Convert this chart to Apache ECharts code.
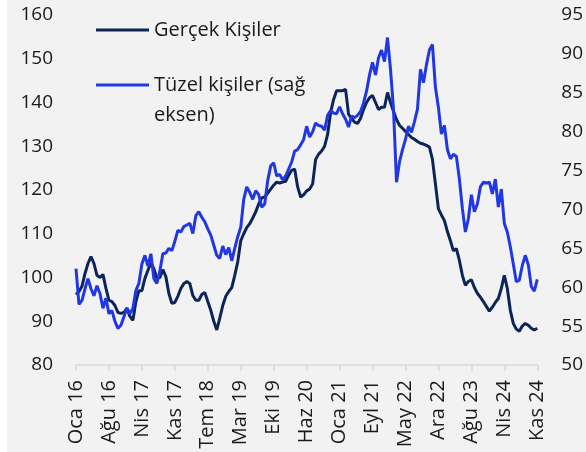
<!DOCTYPE html>
<html>
<head>
<meta charset="utf-8">
<script src="https://cdn.jsdelivr.net/npm/echarts@6/dist/echarts.min.js"></script>
<style>
  html, body { margin: 0; padding: 0; background: #ffffff; }
  #main { width: 586px; height: 452px; }
</style>
</head>
<body>
<div id="main"></div>
<script>
// Eksen etiketleri (her 11 noktada bir, ~3 haftalik veri)
var etiketler = ['Oca 16', 'Ağu 16', 'Nis 17', 'Kas 17', 'Tem 18', 'Mar 19', 'Eki 19',
  'Haz 20', 'Oca 21', 'Eyl 21', 'May 22', 'Ara 22', 'Ağu 23', 'Nis 24', 'Kas 24'];
var adim = 11;

// Gercek kisiler (sol eksen)
var gercek = [
  96.1, 96.8, 98.0, 100.9, 103.2, 104.8, 103.2, 100.5, 100.0, 100.7,
  97.5, 94.8, 94.5, 93.6, 92.0, 91.8, 92.0, 93.0, 91.1, 90.2,
  94.5, 97.0, 97.0, 99.8, 101.6, 103.4, 102.0, 99.8, 100.0, 101.8,
  100.2, 96.4, 94.1, 94.3, 95.7, 97.5, 98.6, 99.1, 98.6, 95.9,
  94.8, 94.8, 96.1, 96.6, 94.5, 92.5, 90.0, 88.0, 90.7, 93.6,
  95.7, 96.8, 97.7, 100.5, 103.6, 108.4, 110.0, 111.4, 112.3, 113.6,
  115.0, 116.8, 118.2, 118.4, 119.3, 120.2, 121.1, 121.8, 121.6, 121.8,
  122.0, 123.4, 124.5, 124.8, 120.7, 118.4, 118.9, 119.8, 120.2, 121.4,
  127.0, 128.2, 128.9, 130.0, 132.7, 137.7, 140.7, 142.7, 142.7, 142.7,
  143.0, 137.3, 136.4, 135.5, 135.2, 136.4, 138.4, 140.0, 141.1, 141.6,
  140.0, 138.4, 138.9, 138.9, 142.3, 140.0, 138.0, 136.1, 134.8, 134.1,
  133.4, 132.7, 132.0, 131.6, 131.1, 130.7, 130.5, 130.2, 129.8, 127.0,
  121.4, 115.7, 114.3, 113.0, 110.5, 108.4, 106.1, 106.6, 103.9, 100.5,
  98.2, 99.1, 99.5, 97.7, 96.4, 95.5, 94.5, 93.4, 92.3, 93.2,
  94.3, 95.2, 97.5, 100.5, 97.5, 92.5, 89.5, 88.2, 87.7, 88.9,
  89.5, 89.1, 88.4, 88.0, 88.4
];

// Tuzel kisiler (sag eksen)
var tuzel = [
  62.4, 57.8, 58.3, 59.8, 61.1, 59.8, 58.9, 60.2, 59.2, 57.3,
  58.6, 56.6, 57.0, 55.6, 54.7, 55.1, 56.2, 57.3, 56.6, 57.3,
  59.6, 60.5, 63.0, 64.1, 62.7, 64.3, 61.1, 60.5, 62.1, 64.3,
  64.4, 65.0, 64.7, 65.9, 67.3, 67.1, 67.8, 68.0, 68.2, 66.9,
  69.2, 69.7, 69.0, 68.4, 67.5, 66.7, 65.4, 64.1, 63.7, 65.3,
  64.2, 65.1, 63.4, 65.0, 66.5, 67.7, 71.3, 72.9, 72.2, 71.3,
  72.4, 71.9, 70.3, 70.7, 73.7, 75.6, 76.0, 74.3, 74.5, 73.8,
  74.3, 75.2, 76.1, 77.5, 77.7, 78.3, 79.0, 80.7, 79.3, 80.0,
  81.1, 80.8, 80.7, 80.2, 82.1, 82.7, 82.4, 82.3, 83.2, 82.3,
  81.6, 80.6, 82.0, 81.8, 82.1, 82.6, 83.7, 85.2, 87.3, 88.9,
  87.3, 89.5, 90.5, 89.0, 92.1, 88.0, 82.9, 73.5, 76.1, 77.7,
  79.0, 80.7, 79.9, 81.3, 82.9, 88.0, 86.3, 88.6, 90.5, 91.2,
  85.7, 83.1, 79.7, 80.8, 77.7, 76.5, 77.1, 76.8, 73.9, 70.1,
  67.1, 68.8, 71.9, 69.7, 70.7, 72.9, 73.5, 73.4, 73.5, 72.0,
  73.9, 70.3, 72.6, 68.2, 67.1, 65.2, 63.0, 60.7, 60.9, 62.8,
  64.1, 62.9, 60.1, 59.5, 61.0
];

var kategoriler = gercek.map(function (v, i) { return String(i); });

var yazi = { fontFamily: 'Open Sans', fontSize: 19, color: '#1a1a1a' };
var lejantYazi = { fontFamily: 'Open Sans', fontSize: 20, color: '#1a1a1a' };

var grafik = echarts.init(document.getElementById('main'));
var option = {
  backgroundColor: '#ffffff',
  animation: false,
  textStyle: { fontFamily: 'Open Sans' },
  graphic: [{
    type: 'rect', z: -10, silent: true,
    shape: { x: 7, y: 0, width: 579, height: 452 },
    style: { fill: '#f2f2f2' }
  }, {
    type: 'text', left: 154, top: 105, silent: true,
    style: { text: 'eksen)', fill: '#1a1a1a', font: '20px "Open Sans"' }
  }],
  grid: { left: 76, right: 45, top: 15, bottom: 87 },
  legend: [{
    data: ['Gerçek Kişiler'],
    left: 96, top: 20, padding: 0,
    icon: 'rect', itemWidth: 53, itemHeight: 3,
    textStyle: lejantYazi
  }, {
    data: ['Tüzel kişiler (sağ eksen)'],
    left: 96, top: 75, padding: 0,
    icon: 'rect', itemWidth: 53, itemHeight: 3,
    formatter: function () { return 'Tüzel kişiler (sağ'; },
    textStyle: lejantYazi
  }],
  xAxis: {
    type: 'category',
    data: kategoriler,
    boundaryGap: false,
    axisLine: { lineStyle: { color: '#d9d9d9', width: 1.5 } },
    axisTick: { interval: adim - 1, length: 6, lineStyle: { color: '#d9d9d9', width: 1.5 } },
    axisLabel: {
      interval: adim - 1,
      rotate: 90,
      margin: 15,
      fontFamily: 'Open Sans', fontSize: 20, color: '#1a1a1a',
      formatter: function (v, i) { return etiketler[i / adim]; }
    }
  },
  yAxis: [{
    type: 'value', min: 80, max: 160, interval: 10,
    axisLine: { show: false }, axisTick: { show: false }, splitLine: { show: false },
    axisLabel: Object.assign({ margin: 23 }, yazi)
  }, {
    type: 'value', min: 50, max: 95, interval: 5,
    axisLine: { show: false }, axisTick: { show: false }, splitLine: { show: false },
    axisLabel: Object.assign({ margin: 24 }, yazi)
  }],
  series: [{
    name: 'Gerçek Kişiler',
    type: 'line',
    yAxisIndex: 0,
    symbol: 'none',
    z: 2,
    lineStyle: { color: '#0c2558', width: 3 },
    itemStyle: { color: '#0c2558' },
    data: gercek
  }, {
    name: 'Tüzel kişiler (sağ eksen)',
    type: 'line',
    yAxisIndex: 1,
    symbol: 'none',
    z: 3,
    lineStyle: { color: '#2137e4', width: 3 },
    itemStyle: { color: '#2137e4' },
    data: tuzel
  }]
};
grafik.setOption(option);
</script>
</body>
</html>
